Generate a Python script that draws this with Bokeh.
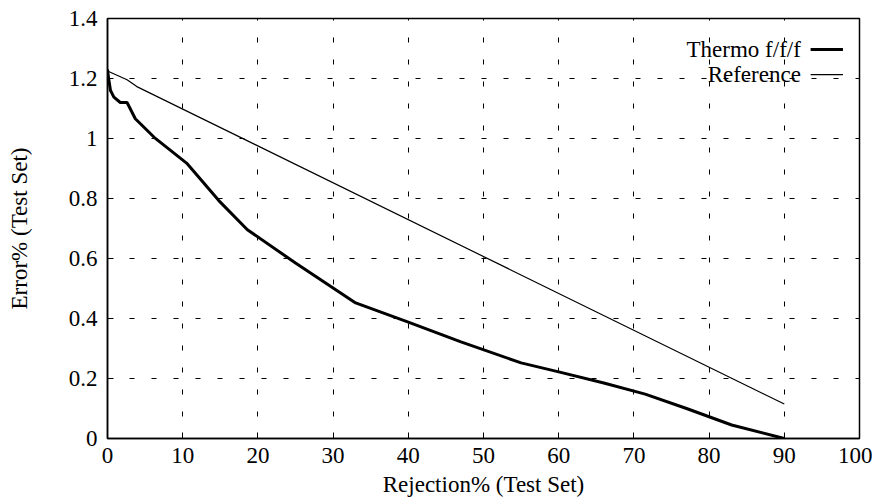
from bokeh.plotting import figure
from bokeh.models import Range1d, FixedTicker
from bokeh.core.properties import value
from bokeh.embed import file_html
from bokeh.resources import INLINE

# Data
thermo_x = [0, 0.15, 0.4, 0.85, 1.7, 2.6, 3.7, 6.2, 10.6, 14.8, 18.6, 25, 33, 40, 47, 55, 60, 66, 71.5, 77, 83, 90]
thermo_y = [1.23, 1.2, 1.16, 1.138, 1.12, 1.12, 1.066, 1.004, 0.916, 0.793, 0.696, 0.585, 0.452, 0.388, 0.322, 0.252, 0.222, 0.185, 0.148, 0.1, 0.045, 0.0]
ref_x = [0, 2.6, 3.9, 90]
ref_y = [1.225, 1.196, 1.173, 0.115]

x_ticks = [0, 10, 20, 30, 40, 50, 60, 70, 80, 90, 100]
x_tick_labels = ["0", "10", "20", "30", "40", "50", "60", "70", "80", "90", "100"]
y_ticks = [0, 0.2, 0.4, 0.6, 0.8, 1.0, 1.2, 1.4]
y_tick_labels = ["0", "0.2", "0.4", "0.6", "0.8", "1", "1.2", "1.4"]

series_names = ["Thermo f/f/f", "Reference"]

FONT = "Liberation Serif"
FS = "23px"

p = figure(output_backend="svg", toolbar_location=None,
           x_range=Range1d(0, 100), y_range=Range1d(0, 1.4),
           frame_width=752, frame_height=420)
p.min_border_left = 107
p.min_border_top = 18
p.min_border_right = 13
p.min_border_bottom = 60
p.background_fill_color = "white"
p.border_fill_color = "white"
p.outline_line_color = "black"
p.outline_line_width = 1.5

# grid
for g in (p.xgrid, p.ygrid):
    g.grid_line_color = "black"
    g.grid_line_width = 1
    g.grid_line_dash = "5 17"
p.xgrid.ticker = FixedTicker(ticks=x_ticks)
p.ygrid.ticker = FixedTicker(ticks=y_ticks)

# axes
p.xaxis.ticker = FixedTicker(ticks=x_ticks)
p.yaxis.ticker = FixedTicker(ticks=y_ticks)
p.xaxis.major_label_overrides = {t: l for t, l in zip(x_ticks, x_tick_labels)}
p.yaxis.major_label_overrides = {t: l for t, l in zip(y_ticks, y_tick_labels)}
for ax in (p.xaxis, p.yaxis):
    ax.axis_line_color = "black"
    ax.axis_line_width = 1.5
    ax.major_tick_in = 6
    ax.major_tick_out = 0
    ax.minor_tick_line_color = None
    ax.major_tick_line_color = "black"
    ax.major_label_text_font = FONT
    ax.major_label_text_font_size = FS
    ax.major_label_text_color = "black"
    ax.axis_label_text_font = FONT
    ax.axis_label_text_font_size = FS
    ax.axis_label_text_font_style = "normal"
    ax.axis_label_text_color = "black"
p.xaxis.axis_label = "Rejection% (Test Set)"
p.yaxis.axis_label = "Error% (Test Set)"
p.xaxis.major_label_standoff = 9
p.xaxis.axis_label_standoff = 6
p.yaxis.major_label_standoff = 10
p.yaxis.axis_label_standoff = 34

# data lines
p.line(thermo_x, thermo_y, line_color="black", line_width=3)
p.line(ref_x, ref_y, line_color="black", line_width=1.2)

# legend (gnuplot style: right-aligned text, sample to the right)
leg_text_x = [92.2, 92.2]
leg_y = [1.297, 1.213]
leg_x0 = [93.5, 93.5]
leg_x1 = [97.8, 97.8]
leg_w = [3, 1.2]
p.text(x=leg_text_x, y=leg_y, text=series_names, text_align="right",
       text_baseline="middle", text_font=value(FONT), text_font_size=FS,
       text_color="black")
p.segment(x0=leg_x0, y0=leg_y, x1=leg_x1, y1=leg_y, line_color="black",
          line_width=leg_w)

open("out.html", "w").write(file_html(p, INLINE))
